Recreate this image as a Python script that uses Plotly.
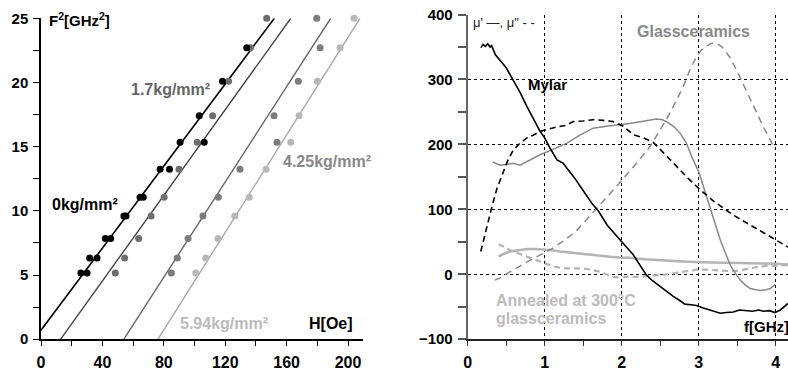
import plotly.graph_objects as go

W, H = 788, 372

# ---------------- Left panel data: F^2 [GHz^2] vs H [Oe] ----------------
# fitted lines (endpoints)
line0_H = [0, 152]
line0_F = [0.7, 25]
line17_H = [12.8, 162.7]
line17_F = [0, 25]
line425_H = [54, 188.7]
line425_F = [0, 25]
line594_H = [76.2, 207.8]
line594_F = [0, 25]

# measured points
pts0_H = [26, 30, 31.7, 36.5, 41.9, 45.4, 54, 55.4, 64.5, 66.6, 77.6, 83.7, 90.6, 106.3, 103.1, 118.2, 134]
pts0_F = [5.16, 5.16, 6.33, 6.33, 7.84, 7.84, 9.6, 9.6, 11.06, 11.06, 13.24, 13.24, 15.35, 15.35, 17.4, 20.1, 22.7]
pts17_H = [48.4, 54.5, 63.6, 71.7, 80.2, 89.9, 101.7, 111.8, 122.2, 136.4, 147]
pts17_F = [5.16, 6.33, 7.84, 9.6, 11.06, 13.24, 15.35, 17.4, 20.1, 22.7, 25]
pts425_H = [84.9, 88.8, 95.8, 105.5, 115.5, 129.6, 153.7, 151.8, 167.6, 181.8, 179.6]
pts425_F = [5.16, 6.33, 7.84, 9.6, 11.06, 13.24, 15.35, 17.4, 20.1, 22.7, 25]
pts594_H = [100.8, 107.3, 115.3, 126.2, 135.7, 146.6, 162.7, 168.1, 180, 194.8, 203.9]
pts594_F = [5.16, 6.33, 7.84, 9.6, 11.06, 13.24, 15.35, 17.4, 20.1, 22.7, 25]

# ---------------- Right panel data: mu', mu'' vs f [GHz] ----------------
mylar_re_f = [0.17, 0.2, 0.23, 0.26, 0.29, 0.31, 0.36, 0.42, 0.5, 0.59, 0.68, 0.77, 0.85, 0.94, 1.0, 1.07, 1.16, 1.24, 1.31, 1.39, 1.47, 1.55, 1.62, 1.7, 1.81, 1.94, 2.02, 2.09, 2.15, 2.23, 2.32, 2.4, 2.5, 2.58, 2.67, 2.75, 2.82, 2.9, 2.97, 3.06, 3.15, 3.22, 3.28, 3.36, 3.45, 3.53, 3.62, 3.7, 3.78, 3.84, 3.92, 3.99, 4.06, 4.16]
mylar_re_v = [349, 354, 351, 355, 350, 352, 338, 330, 318, 299, 280, 258, 240, 220, 210, 194, 176, 171, 160, 148, 134, 120, 108, 97, 76, 58, 48, 38, 30, 15, -1, -10, -19, -27, -34, -40, -46, -47, -48, -52, -55, -58, -60, -59, -58, -55, -56, -57, -55, -57, -56, -59, -55, -45]
mylar_im_f = [0.17, 0.24, 0.31, 0.38, 0.46, 0.52, 0.59, 0.68, 0.77, 0.85, 0.94, 1.05, 1.16, 1.27, 1.37, 1.5, 1.63, 1.76, 1.89, 2.02, 2.15, 2.28, 2.41, 2.56, 2.71, 2.86, 3.02, 3.2, 3.45, 3.7, 3.9, 4.16]
mylar_im_v = [35, 70, 102, 132, 156, 175, 191, 202, 210, 214, 220, 224, 227, 229, 235, 236, 238, 237, 235, 228, 215, 210, 203, 185, 166, 148, 130, 112, 91, 74, 60, 42]

glass_re_f = [0.32, 0.37, 0.42, 0.5, 0.59, 0.68, 0.8, 0.94, 1.1, 1.29, 1.45, 1.63, 1.8, 1.98, 2.1, 2.24, 2.35, 2.45, 2.53, 2.6, 2.68, 2.76, 2.84, 2.92, 3.0, 3.08, 3.15, 3.22, 3.28, 3.35, 3.41, 3.48, 3.54, 3.61, 3.67, 3.74, 3.8, 3.87, 3.93, 3.99]
glass_re_v = [173, 170, 168, 169, 171, 168, 175, 184, 192, 202, 214, 225, 228, 230, 232, 235, 237, 239, 238, 234, 227, 217, 202, 178, 158, 128, 99, 74, 53, 32, 14, 1, -9, -17, -22, -24, -25, -24, -22, -16]
glass_im_f = [0.35, 0.42, 0.48, 0.55, 0.66, 0.77, 0.88, 0.98, 1.09, 1.2, 1.31, 1.42, 1.52, 1.63, 1.74, 1.85, 1.96, 2.06, 2.2, 2.37, 2.48, 2.58, 2.69, 2.8, 2.88, 2.97, 3.04, 3.1, 3.15, 3.21, 3.27, 3.32, 3.4, 3.49, 3.58, 3.67, 3.75, 3.84, 3.92, 3.99]
glass_im_v = [-9, -6, -1, 4, 11, 19, 26, 32, 39, 48, 57, 68, 81, 96, 110, 125, 139, 153, 172, 197, 218, 238, 263, 289, 313, 335, 346, 351, 355, 356, 353, 348, 335, 315, 292, 269, 248, 227, 209, 192]

ann_re_f = [0.4, 0.48, 0.55, 0.66, 0.77, 0.88, 0.98, 1.1, 1.2, 1.31, 1.42, 1.52, 1.63, 1.74, 1.85, 1.97, 2.09, 2.3, 2.58, 2.8, 3.02, 3.24, 3.45, 3.66, 3.88, 4.0, 4.16]
ann_re_v = [27, 32, 35, 37.5, 39, 39, 38.5, 37, 35, 33.5, 32, 31, 30, 28.5, 27, 26, 25.5, 23, 20.5, 19.5, 18.5, 18, 18, 17.5, 17, 16, 15]
ann_im_f = [0.4, 0.48, 0.55, 0.66, 0.77, 0.88, 0.98, 1.05, 1.11, 1.2, 1.29, 1.4, 1.5, 1.6, 1.72, 1.8, 1.89, 1.97, 2.06, 2.2, 2.37, 2.52, 2.67, 2.82, 2.97, 3.12, 3.28, 3.38, 3.49, 3.6, 3.71, 3.8, 3.88, 4.0, 4.16]
ann_im_v = [46, 42, 37, 32, 27, 22, 17, 14, 12, 10, 9, 9, 9, 7, 4, 0, -4, -5, -4, -4, -3, -1, 1.5, 4, 7, 7, 5.5, 5, 5, 7, 10, 12, 13, 13, 14]

fig = go.Figure()

def add_line(x, y, color, xa, ya, width=1.5, dash="solid"):
    fig.add_trace(go.Scatter(x=x, y=y, mode="lines", xaxis=xa, yaxis=ya,
                             line=dict(color=color, width=width, dash=dash),
                             showlegend=False, hoverinfo="skip"))

def add_pts(x, y, color, xa, ya):
    fig.add_trace(go.Scatter(x=x, y=y, mode="markers", xaxis=xa, yaxis=ya, cliponaxis=False,
                             marker=dict(color=color, size=7, line=dict(width=0)),
                             showlegend=False, hoverinfo="skip"))

# left panel
add_line(line0_H, line0_F, "#000000", "x", "y", 1.6)
add_line(line17_H, line17_F, "#444444", "x", "y", 1.4)
add_line(line425_H, line425_F, "#666666", "x", "y", 1.4)
add_line(line594_H, line594_F, "#a8a8a8", "x", "y", 1.4)
add_pts(pts17_H, pts17_F, "#6e6e6e", "x", "y")
add_pts(pts425_H, pts425_F, "#7c7c7c", "x", "y")
add_pts(pts594_H, pts594_F, "#b8b8b8", "x", "y")
add_pts(pts0_H, pts0_F, "#000000", "x", "y")

# right panel
add_line(ann_re_f, ann_re_v, "#b4b4b4", "x2", "y2", 2.5)
add_line(ann_im_f, ann_im_v, "#b4b4b4", "x2", "y2", 2.2, "6px,4px")
add_line(glass_re_f, glass_re_v, "#888888", "x2", "y2", 1.5)
add_line(glass_im_f, glass_im_v, "#888888", "x2", "y2", 1.5, "7px,5px")
add_line(mylar_im_f, mylar_im_v, "#000000", "x2", "y2", 1.6, "6px,4px")
add_line(mylar_re_f, mylar_re_v, "#000000", "x2", "y2", 1.6)

FONT = "Liberation Sans, Arial, sans-serif"
tickfont_y = dict(family=FONT, size=15, color="#000", weight="bold")
tickfont_x = dict(family=FONT, size=16, color="#000", weight="bold")

ybot = (H - 339.2) / H

fig.update_layout(
    width=W, height=H,
    margin=dict(l=0, r=0, t=0, b=0),
    paper_bgcolor="white", plot_bgcolor="white",
    font=dict(family=FONT),
    xaxis=dict(domain=[41 / W, 363.4 / W], range=[0, 210], anchor="y", automargin=False,
               showgrid=False, zeroline=False, showline=True, linecolor="#000", linewidth=1.5,
               ticks="outside", ticklen=5, tickwidth=1.2, tickcolor="#000",
               tickvals=[0, 40, 80, 120, 160, 200], tickfont=tickfont_x, ticklabelstandoff=3,
               minor=dict(tickvals=[20, 60, 100, 140, 180], ticks="outside", ticklen=5, tickwidth=1.2, tickcolor="#000")),
    yaxis=dict(domain=[ybot, (H - 18.3) / H], range=[0, 25], anchor="x", automargin=False,
               showgrid=False, zeroline=False, showline=True, linecolor="#000", linewidth=1.5,
               ticks="outside", ticklen=6, tickwidth=1.2, tickcolor="#000",
               dtick=5, tickfont=tickfont_y, ticklabelstandoff=2,
               minor=dict(dtick=2.5, ticks="outside", ticklen=6, tickwidth=1.2, tickcolor="#000")),
    xaxis2=dict(domain=[467.7 / W, 1.0], range=[0, 4.16], anchor="y2", automargin=False,
                showgrid=True, gridcolor="#000", gridwidth=1, griddash="dot",
                zeroline=False, showline=True, linecolor="#222", linewidth=1.5,
                ticks="outside", ticklen=5, tickwidth=1.2, tickcolor="#333",
                dtick=1, tickfont=tickfont_x, ticklabelstandoff=3,
                minor=dict(dtick=0.5, ticks="outside", ticklen=5, tickwidth=1.2, tickcolor="#333")),
    yaxis2=dict(domain=[ybot, (H - 14.5) / H], range=[-100, 400], anchor="x2", automargin=False,
                showgrid=True, gridcolor="#000", gridwidth=1, griddash="dot",
                zeroline=False, showline=True, linecolor="#666", linewidth=2,
                ticks="outside", ticklen=8, tickwidth=1.5, tickcolor="#555",
                dtick=100, tickfont=tickfont_y, ticklabelstandoff=2,
                minor=dict(dtick=50, ticks="outside", ticklen=8, tickwidth=1.5, tickcolor="#555")),
)

def px_ann(text, x, y, color="#000", size=15, bold=True, xanchor="left"):
    fig.add_annotation(text=text, x=x / W, y=1 - y / H, xref="paper", yref="paper",
                       xanchor=xanchor, yanchor="middle", showarrow=False,
                       font=dict(family=FONT, size=size, color=color,
                                 weight="bold" if bold else "normal"))

px_ann("F<sup>2</sup>[GHz<sup>2</sup>]", 47, 20, size=15)
px_ann("1.7kg/mm²", 129, 89, color="#666666", size=16)
px_ann("0kg/mm²", 50, 205, size=16)
px_ann("4.25kg/mm²", 281, 161, color="#888888", size=16)
px_ann("5.94kg/mm²", 178, 323, color="#bbbbbb", size=16)
px_ann("H[Oe]", 307, 323, size=16)

px_ann("μ' —, μ\" - -", 471, 23, color="#222", size=13, bold=False)
px_ann("Glassceramics", 635, 31, color="#888888", size=16)
px_ann("Mylar", 526, 84, size=15)
px_ann("Annealed at 300°C", 494, 300, color="#bbbbbb", size=16)
px_ann("glassceramics", 494, 318, color="#bbbbbb", size=16)
px_ann("f[GHz]", 742, 326, size=15)

post = (
    "var de=document.documentElement;de.style.margin='0';de.style.padding='0';de.style.overflow='hidden';"
    "document.body.style.margin='0';document.body.style.padding='0';document.body.style.overflow='hidden';"
)

fig.write_html("out.html", config={"displayModeBar": False}, post_script=post)
